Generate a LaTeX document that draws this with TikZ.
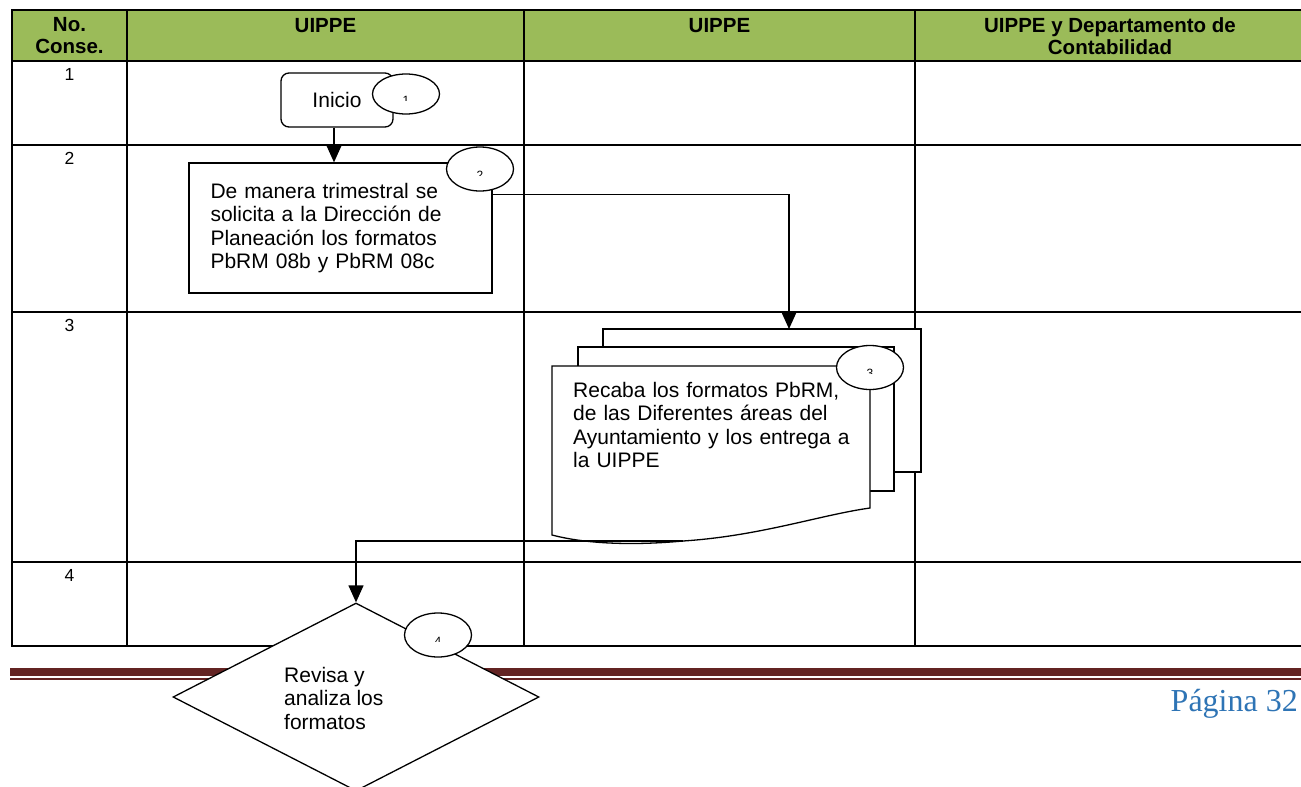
\documentclass[tikz,border=0pt]{standalone}
\usepackage{fontspec}
\setmainfont{Liberation Sans}
\newfontfamily\pagefont{Liberation Serif}
\usetikzlibrary{shapes.geometric,arrows.meta}
\definecolor{headgreen}{RGB}{155,187,89}
\definecolor{rulered}{RGB}{99,36,35}
\definecolor{pageblue}{RGB}{46,116,181}
\tikzset{
  tablerule/.style={line width=2pt, line cap=rect},
  flowline/.style={line width=1.3pt},
  conn/.style={line width=1.3pt, -{Triangle[length=17pt,width=15pt]}},
  stepno/.style={ellipse, draw, fill=white, line width=1.3pt, inner sep=0pt,
                 minimum width=67pt, minimum height=44pt},
  bodytext/.style={font=\fontsize{21}{23.5}\selectfont},
  headtext/.style={font=\bfseries\fontsize{20.5}{22}\selectfont, align=center, inner sep=0pt},
  rowtext/.style={font=\fontsize{17.5}{20}\selectfont, inner sep=0pt},
  numtext/.style={font=\fontsize{12}{12}\selectfont, inner sep=0pt, anchor=base}
}
\begin{document}
\begin{tikzpicture}[x=1pt,y=-1pt]
\clip (0,0) rectangle (1301,787);
\fill[white] (0,0) rectangle (1301,787);

% header band and table rules
\fill[headgreen] (12,10) rectangle (1306,61);
\foreach \y in {10,61,145,312,562,646} \draw[tablerule] (12,\y) -- (1306,\y);
\foreach \x in {12,127,524,915} \draw[tablerule] (\x,10) -- (\x,646);

% column headings
\node[headtext, anchor=north] (hno) at (69.5,17.5) {No.\\Conse.};
\node[headtext, anchor=base] (hcolA) at (325.5,32) {UIPPE};
\node[headtext, anchor=base] (hcolB) at (719.5,32) {UIPPE};
\node[headtext, anchor=north] (hcolC) at (1110,17.5) {UIPPE y Departamento de\\Contabilidad};

% row numbers
\node[rowtext, anchor=base] (r1) at (69.5,80) {1};
\node[rowtext, anchor=base] (r2) at (69.5,164) {2};
\node[rowtext, anchor=base] (r3) at (69.5,331) {3};
\node[rowtext, anchor=base] (r4) at (69.5,581) {4};

% page footer rules and number
\fill[rulered] (10,668) rectangle (1306,675.5);
\fill[rulered] (10,678) rectangle (1306,679.7);
\node[anchor=base east, inner sep=0pt, font=\pagefont\fontsize{32}{36}\selectfont,
      text=pageblue] (page) at (1298,711) {Página 32};

% step 1: start
\node[draw, flowline, fill=white, rounded corners=8pt, minimum width=112pt,
      minimum height=54pt, inner sep=0pt, bodytext] (start) at (337,100) {Inicio};
\node[stepno, minimum height=40pt] (c1) at (406,94) {};

% step 2: request
\node[draw, flowline, fill=white, minimum width=303pt, minimum height=130pt,
      inner sep=0pt, text width=260pt, align=left, bodytext] (act2) at (340.5,228)
      {De manera trimestral se\\solicita a la Dirección de\\Planeación los formatos\\PbRM 08b y PbRM 08c};
\node[stepno] (c2) at (480,169) {};

% step 3: stacked documents
\draw[flowline, fill=white] (603,329) rectangle (921,472);
\draw[flowline, fill=white] (578,347) rectangle (894,491);
\draw[flowline, fill=white] (552,366) -- (870,366) -- (870,508)
  .. controls (820,515) and (760,536) .. (683,541)
  .. controls (640,545) and (590,545) .. (552,535) -- cycle;
\coordinate (d3in) at (789,329);
\coordinate (d3out) at (683,541);
\node[bodytext, anchor=north west, inner sep=0pt, text width=290pt, align=left] (act3)
  at (573,382) {Recaba los formatos PbRM,\\de las Diferentes áreas del\\Ayuntamiento y los entrega a\\la UIPPE};
\node[stepno] (c3) at (870,367.5) {};

% step 4: decision
\node[diamond, draw, flowline, fill=white, minimum width=366pt, minimum height=188pt,
      inner sep=0pt] (dec) at (356,697) {};
\node[bodytext, anchor=north west, inner sep=0pt, align=left] (act4)
  at (284,667) {Revisa y\\analiza los\\formatos};
\node[stepno] (c4) at (438,635) {};

% step numbers inside the ovals
\foreach \c/\n in {c1/1,c2/2,c3/3,c4/4} {
  \begin{scope}
    \clip ([xshift=-20pt,yshift=10pt]\c.center) rectangle ([xshift=20pt,yshift=-6pt]\c.center);
    \node[numtext] (\c-num) at ([yshift=-10pt]\c.center) {\n};
  \end{scope}
}

% connectors
\draw[conn] ([xshift=-3pt]start.south) -- ([xshift=-3pt]start.south |- act2.north);
\draw[conn] ([yshift=-32pt]act2.north east) -| (d3in);
\draw[conn] (d3out) -| (dec.north);
\end{tikzpicture}
\end{document}
